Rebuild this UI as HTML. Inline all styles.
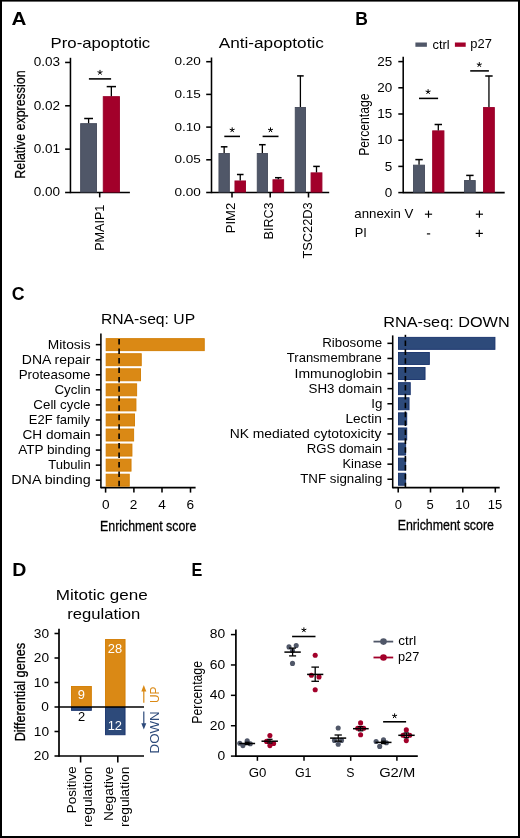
<!DOCTYPE html>
<html><head><meta charset="utf-8"><style>
html,body{margin:0;padding:0;background:#fff;}
svg{display:block;will-change:transform;font-family:'Liberation Sans', sans-serif;}
</style></head><body>
<svg width="520" height="838" viewBox="0 0 520 838">
<rect x="0" y="0" width="520" height="838" fill="#000"/>
<rect x="2" y="1.6" width="516" height="834.4" fill="#fff"/>
<text transform="translate(11.52,24.60)" font-size="18.2" font-weight="bold" textLength="14.89" lengthAdjust="spacingAndGlyphs">A</text>
<text transform="translate(355.19,24.60)" font-size="18.5" font-weight="bold" textLength="12.65" lengthAdjust="spacingAndGlyphs">B</text>
<text transform="translate(11.87,300.40)" font-size="18.5" font-weight="bold" textLength="12.83" lengthAdjust="spacingAndGlyphs">C</text>
<text transform="translate(12.24,576.30)" font-size="18.5" font-weight="bold" textLength="14.12" lengthAdjust="spacingAndGlyphs">D</text>
<text transform="translate(191.50,576.30)" font-size="18.5" font-weight="bold" textLength="10.82" lengthAdjust="spacingAndGlyphs">E</text>
<text transform="translate(50.55,48.30)" font-size="15" textLength="99.70" lengthAdjust="spacingAndGlyphs">Pro-apoptotic</text>
<line x1="70.45" y1="57.80" x2="70.45" y2="193.20" stroke="#000" stroke-width="1.55" />
<line x1="70.45" y1="192.50" x2="129.90" y2="192.50" stroke="#000" stroke-width="1.55" />
<line x1="65.10" y1="62.45" x2="70.45" y2="62.45" stroke="#000" stroke-width="1.55" />
<text transform="translate(33.71,66.35) scale(1.11,1)" font-size="12.2">0.03</text>
<line x1="65.10" y1="105.80" x2="70.45" y2="105.80" stroke="#000" stroke-width="1.55" />
<text transform="translate(33.74,109.70) scale(1.11,1)" font-size="12.2">0.02</text>
<line x1="65.10" y1="149.15" x2="70.45" y2="149.15" stroke="#000" stroke-width="1.55" />
<text transform="translate(33.71,153.05) scale(1.11,1)" font-size="12.2">0.01</text>
<line x1="65.10" y1="192.50" x2="70.45" y2="192.50" stroke="#000" stroke-width="1.55" />
<text transform="translate(33.67,196.40) scale(1.11,1)" font-size="12.2">0.00</text>
<line x1="99.70" y1="192.50" x2="99.70" y2="197.40" stroke="#000" stroke-width="1.55" />
<rect x="80.65" y="123.65" width="15.90" height="68.40" fill="#505768" stroke="#444a5a" stroke-width="0.9"/>
<line x1="88.60" y1="123.20" x2="88.60" y2="118.20" stroke="#000" stroke-width="1.3" />
<line x1="84.20" y1="118.50" x2="93.00" y2="118.50" stroke="#000" stroke-width="1.5" />
<rect x="103.25" y="96.65" width="16.20" height="95.40" fill="#a2002a" stroke="#98002a" stroke-width="0.9"/>
<line x1="111.35" y1="96.20" x2="111.35" y2="86.30" stroke="#000" stroke-width="1.3" />
<line x1="106.70" y1="86.60" x2="116.00" y2="86.60" stroke="#000" stroke-width="1.5" />
<line x1="88.90" y1="78.90" x2="111.10" y2="78.90" stroke="#000" stroke-width="1.55" />
<path d="M100.00,72.50L100.00,69.90M100.00,72.50L102.47,71.70M100.00,72.50L101.53,74.60M100.00,72.50L98.47,74.60M100.00,72.50L97.53,71.70" stroke="#000" stroke-width="1.0"/>
<text transform="translate(24.70,178.68) rotate(-90)" font-size="14.5" stroke="#000" stroke-width="0.25" textLength="108.23" lengthAdjust="spacingAndGlyphs">Relative expression</text>
<text transform="translate(103.50,250.85) rotate(-90)" font-size="13.3" textLength="46.22" lengthAdjust="spacingAndGlyphs">PMAIP1</text>
<text transform="translate(218.65,47.90)" font-size="15.2" textLength="105.23" lengthAdjust="spacingAndGlyphs">Anti-apoptotic</text>
<line x1="211.50" y1="57.50" x2="211.50" y2="193.20" stroke="#000" stroke-width="1.55" />
<line x1="211.50" y1="192.50" x2="329.20" y2="192.50" stroke="#000" stroke-width="1.55" />
<line x1="206.20" y1="61.70" x2="211.50" y2="61.70" stroke="#000" stroke-width="1.55" />
<text transform="translate(174.43,65.30) scale(1.15,1)" font-size="11.8">0.20</text>
<line x1="206.20" y1="94.40" x2="211.50" y2="94.40" stroke="#000" stroke-width="1.55" />
<text transform="translate(174.44,98.00) scale(1.15,1)" font-size="11.8">0.15</text>
<line x1="206.20" y1="127.10" x2="211.50" y2="127.10" stroke="#000" stroke-width="1.55" />
<text transform="translate(174.43,130.70) scale(1.15,1)" font-size="11.8">0.10</text>
<line x1="206.20" y1="159.80" x2="211.50" y2="159.80" stroke="#000" stroke-width="1.55" />
<text transform="translate(174.44,163.40) scale(1.15,1)" font-size="11.8">0.05</text>
<line x1="206.20" y1="192.50" x2="211.50" y2="192.50" stroke="#000" stroke-width="1.55" />
<text transform="translate(174.43,196.10) scale(1.15,1)" font-size="11.8">0.00</text>
<line x1="232.00" y1="192.50" x2="232.00" y2="197.50" stroke="#000" stroke-width="1.55" />
<line x1="270.20" y1="192.50" x2="270.20" y2="197.50" stroke="#000" stroke-width="1.55" />
<line x1="308.50" y1="192.50" x2="308.50" y2="197.50" stroke="#000" stroke-width="1.55" />
<rect x="218.95" y="153.45" width="10.40" height="38.60" fill="#505768" stroke="#444a5a" stroke-width="0.9"/>
<line x1="224.15" y1="153.00" x2="224.15" y2="146.50" stroke="#000" stroke-width="1.3" />
<line x1="220.85" y1="146.80" x2="227.45" y2="146.80" stroke="#000" stroke-width="1.5" />
<rect x="234.95" y="180.95" width="10.60" height="11.10" fill="#a2002a" stroke="#98002a" stroke-width="0.9"/>
<line x1="240.25" y1="180.50" x2="240.25" y2="174.20" stroke="#000" stroke-width="1.3" />
<line x1="236.95" y1="174.50" x2="243.55" y2="174.50" stroke="#000" stroke-width="1.5" />
<rect x="257.25" y="153.45" width="10.20" height="38.60" fill="#505768" stroke="#444a5a" stroke-width="0.9"/>
<line x1="262.35" y1="153.00" x2="262.35" y2="144.40" stroke="#000" stroke-width="1.3" />
<line x1="259.05" y1="144.70" x2="265.65" y2="144.70" stroke="#000" stroke-width="1.5" />
<rect x="272.95" y="179.75" width="10.70" height="12.30" fill="#a2002a" stroke="#98002a" stroke-width="0.9"/>
<line x1="278.30" y1="179.30" x2="278.30" y2="177.40" stroke="#000" stroke-width="1.3" />
<line x1="275.00" y1="177.70" x2="281.60" y2="177.70" stroke="#000" stroke-width="1.5" />
<rect x="295.25" y="107.45" width="10.30" height="84.60" fill="#505768" stroke="#444a5a" stroke-width="0.9"/>
<line x1="300.40" y1="107.00" x2="300.40" y2="75.60" stroke="#000" stroke-width="1.3" />
<line x1="297.10" y1="75.90" x2="303.70" y2="75.90" stroke="#000" stroke-width="1.5" />
<rect x="311.05" y="172.85" width="10.90" height="19.20" fill="#a2002a" stroke="#98002a" stroke-width="0.9"/>
<line x1="316.50" y1="172.40" x2="316.50" y2="166.10" stroke="#000" stroke-width="1.3" />
<line x1="313.20" y1="166.40" x2="319.80" y2="166.40" stroke="#000" stroke-width="1.5" />
<line x1="224.30" y1="136.40" x2="240.00" y2="136.40" stroke="#000" stroke-width="1.55" />
<path d="M232.20,130.00L232.20,127.40M232.20,130.00L234.67,129.20M232.20,130.00L233.73,132.10M232.20,130.00L230.67,132.10M232.20,130.00L229.73,129.20" stroke="#000" stroke-width="1.0"/>
<line x1="262.60" y1="136.40" x2="278.50" y2="136.40" stroke="#000" stroke-width="1.55" />
<path d="M270.50,130.00L270.50,127.40M270.50,130.00L272.97,129.20M270.50,130.00L272.03,132.10M270.50,130.00L268.97,132.10M270.50,130.00L268.03,129.20" stroke="#000" stroke-width="1.0"/>
<text transform="translate(235.40,233.30) rotate(-90)" font-size="12.8" textLength="30.60" lengthAdjust="spacingAndGlyphs">PIM2</text>
<text transform="translate(273.40,239.39) rotate(-90)" font-size="12.8" textLength="36.88" lengthAdjust="spacingAndGlyphs">BIRC3</text>
<text transform="translate(311.60,258.49) rotate(-90)" font-size="12.8" textLength="56.22" lengthAdjust="spacingAndGlyphs">TSC22D3</text>
<line x1="403.20" y1="56.80" x2="403.20" y2="193.30" stroke="#000" stroke-width="1.55" />
<line x1="403.20" y1="192.60" x2="504.70" y2="192.60" stroke="#000" stroke-width="1.55" />
<line x1="398.30" y1="61.60" x2="403.20" y2="61.60" stroke="#000" stroke-width="1.55" />
<text transform="translate(377.31,65.70) scale(1.07,1)" font-size="12.6">25</text>
<line x1="398.30" y1="87.80" x2="403.20" y2="87.80" stroke="#000" stroke-width="1.55" />
<text transform="translate(377.31,91.90) scale(1.07,1)" font-size="12.6">20</text>
<line x1="398.30" y1="114.00" x2="403.20" y2="114.00" stroke="#000" stroke-width="1.55" />
<text transform="translate(377.31,118.10) scale(1.07,1)" font-size="12.6">15</text>
<line x1="398.30" y1="140.20" x2="403.20" y2="140.20" stroke="#000" stroke-width="1.55" />
<text transform="translate(377.31,144.30) scale(1.07,1)" font-size="12.6">10</text>
<line x1="398.30" y1="166.40" x2="403.20" y2="166.40" stroke="#000" stroke-width="1.55" />
<text transform="translate(384.80,170.50) scale(1.07,1)" font-size="12.6">5</text>
<line x1="398.30" y1="192.60" x2="403.20" y2="192.60" stroke="#000" stroke-width="1.55" />
<text transform="translate(384.80,196.70) scale(1.07,1)" font-size="12.6">0</text>
<rect x="413.55" y="165.15" width="11.00" height="27.00" fill="#505768" stroke="#444a5a" stroke-width="0.9"/>
<line x1="419.05" y1="164.70" x2="419.05" y2="159.30" stroke="#000" stroke-width="1.3" />
<line x1="415.35" y1="159.60" x2="422.75" y2="159.60" stroke="#000" stroke-width="1.5" />
<rect x="432.65" y="130.85" width="11.30" height="61.30" fill="#a2002a" stroke="#98002a" stroke-width="0.9"/>
<line x1="438.30" y1="130.40" x2="438.30" y2="124.20" stroke="#000" stroke-width="1.3" />
<line x1="434.60" y1="124.50" x2="442.00" y2="124.50" stroke="#000" stroke-width="1.5" />
<rect x="464.55" y="180.55" width="10.70" height="11.60" fill="#505768" stroke="#444a5a" stroke-width="0.9"/>
<line x1="469.90" y1="180.10" x2="469.90" y2="175.10" stroke="#000" stroke-width="1.3" />
<line x1="466.20" y1="175.40" x2="473.60" y2="175.40" stroke="#000" stroke-width="1.5" />
<rect x="483.55" y="107.55" width="10.80" height="84.60" fill="#a2002a" stroke="#98002a" stroke-width="0.9"/>
<line x1="488.95" y1="107.10" x2="488.95" y2="75.70" stroke="#000" stroke-width="1.3" />
<line x1="485.25" y1="76.00" x2="492.65" y2="76.00" stroke="#000" stroke-width="1.5" />
<line x1="419.00" y1="98.40" x2="438.10" y2="98.40" stroke="#000" stroke-width="1.55" />
<path d="M428.10,91.80L428.10,89.20M428.10,91.80L430.57,91.00M428.10,91.80L429.63,93.90M428.10,91.80L426.57,93.90M428.10,91.80L425.63,91.00" stroke="#000" stroke-width="1.0"/>
<line x1="470.20" y1="70.90" x2="488.90" y2="70.90" stroke="#000" stroke-width="1.55" />
<path d="M479.30,64.70L479.30,62.10M479.30,64.70L481.77,63.90M479.30,64.70L480.83,66.80M479.30,64.70L477.77,66.80M479.30,64.70L476.83,63.90" stroke="#000" stroke-width="1.0"/>
<text transform="translate(368.60,155.80) rotate(-90)" font-size="15" textLength="62.36" lengthAdjust="spacingAndGlyphs">Percentage</text>
<rect x="415.40" y="42.50" width="11.50" height="4.30" fill="#505768"/>
<text transform="translate(432.54,48.50)" font-size="12.3" textLength="17.11" lengthAdjust="spacingAndGlyphs">ctrl</text>
<rect x="454.90" y="42.50" width="10.80" height="4.30" fill="#a2002a"/>
<text transform="translate(470.35,48.00)" font-size="12" textLength="21.56" lengthAdjust="spacingAndGlyphs">p27</text>
<text transform="translate(354.32,217.90)" font-size="12.8" textLength="58.98" lengthAdjust="spacingAndGlyphs">annexin V</text>
<text transform="translate(354.79,237.30)" font-size="12.8" textLength="12.08" lengthAdjust="spacingAndGlyphs">PI</text>
<line x1="424.90" y1="214.20" x2="432.10" y2="214.20" stroke="#000" stroke-width="1.15" />
<line x1="428.50" y1="210.60" x2="428.50" y2="217.80" stroke="#000" stroke-width="1.15" />
<line x1="475.80" y1="214.20" x2="483.00" y2="214.20" stroke="#000" stroke-width="1.15" />
<line x1="479.40" y1="210.60" x2="479.40" y2="217.80" stroke="#000" stroke-width="1.15" />
<line x1="475.70" y1="233.40" x2="482.90" y2="233.40" stroke="#000" stroke-width="1.15" />
<line x1="479.30" y1="229.80" x2="479.30" y2="237.00" stroke="#000" stroke-width="1.15" />
<line x1="426.90" y1="233.90" x2="430.20" y2="233.90" stroke="#000" stroke-width="1.15" />
<text transform="translate(100.97,324.00)" font-size="15" textLength="94.14" lengthAdjust="spacingAndGlyphs">RNA-seq: UP</text>
<line x1="100.90" y1="333.50" x2="100.90" y2="488.30" stroke="#000" stroke-width="1.55" />
<line x1="100.90" y1="487.60" x2="195.60" y2="487.60" stroke="#000" stroke-width="1.55" />
<rect x="106.15" y="338.65" width="98.10" height="12.00" fill="#da8915" stroke="#d27c00" stroke-width="0.9"/>
<line x1="95.80" y1="344.65" x2="100.90" y2="344.65" stroke="#000" stroke-width="1.55" />
<text transform="translate(47.84,348.60)" font-size="13" textLength="42.77" lengthAdjust="spacingAndGlyphs">Mitosis</text>
<rect x="106.15" y="353.71" width="35.10" height="12.00" fill="#da8915" stroke="#d27c00" stroke-width="0.9"/>
<line x1="95.80" y1="359.71" x2="100.90" y2="359.71" stroke="#000" stroke-width="1.55" />
<text transform="translate(21.83,363.66)" font-size="13" textLength="68.50" lengthAdjust="spacingAndGlyphs">DNA repair</text>
<rect x="106.15" y="368.77" width="34.40" height="12.00" fill="#da8915" stroke="#d27c00" stroke-width="0.9"/>
<line x1="95.80" y1="374.77" x2="100.90" y2="374.77" stroke="#000" stroke-width="1.55" />
<text transform="translate(18.65,378.72)" font-size="13" textLength="71.87" lengthAdjust="spacingAndGlyphs">Proteasome</text>
<rect x="106.15" y="383.83" width="30.50" height="12.00" fill="#da8915" stroke="#d27c00" stroke-width="0.9"/>
<line x1="95.80" y1="389.83" x2="100.90" y2="389.83" stroke="#000" stroke-width="1.55" />
<text transform="translate(54.43,393.78)" font-size="13" textLength="36.37" lengthAdjust="spacingAndGlyphs">Cyclin</text>
<rect x="106.15" y="398.89" width="29.80" height="12.00" fill="#da8915" stroke="#d27c00" stroke-width="0.9"/>
<line x1="95.80" y1="404.89" x2="100.90" y2="404.89" stroke="#000" stroke-width="1.55" />
<text transform="translate(33.33,408.84)" font-size="13" textLength="57.11" lengthAdjust="spacingAndGlyphs">Cell cycle</text>
<rect x="106.15" y="413.95" width="28.40" height="12.00" fill="#da8915" stroke="#d27c00" stroke-width="0.9"/>
<line x1="95.80" y1="419.95" x2="100.90" y2="419.95" stroke="#000" stroke-width="1.55" />
<text transform="translate(28.85,423.90)" font-size="13" textLength="61.15" lengthAdjust="spacingAndGlyphs">E2F family</text>
<rect x="106.15" y="429.01" width="27.50" height="12.00" fill="#da8915" stroke="#d27c00" stroke-width="0.9"/>
<line x1="95.80" y1="435.01" x2="100.90" y2="435.01" stroke="#000" stroke-width="1.55" />
<text transform="translate(22.39,438.96)" font-size="13" textLength="68.33" lengthAdjust="spacingAndGlyphs">CH domain</text>
<rect x="106.15" y="444.07" width="25.80" height="12.00" fill="#da8915" stroke="#d27c00" stroke-width="0.9"/>
<line x1="95.80" y1="450.07" x2="100.90" y2="450.07" stroke="#000" stroke-width="1.55" />
<text transform="translate(18.15,454.02)" font-size="13" textLength="72.67" lengthAdjust="spacingAndGlyphs">ATP binding</text>
<rect x="106.15" y="459.13" width="24.90" height="12.00" fill="#da8915" stroke="#d27c00" stroke-width="0.9"/>
<line x1="95.80" y1="465.13" x2="100.90" y2="465.13" stroke="#000" stroke-width="1.55" />
<text transform="translate(48.25,469.08)" font-size="13" textLength="42.45" lengthAdjust="spacingAndGlyphs">Tubulin</text>
<rect x="106.15" y="474.19" width="23.10" height="12.00" fill="#da8915" stroke="#d27c00" stroke-width="0.9"/>
<line x1="95.80" y1="480.19" x2="100.90" y2="480.19" stroke="#000" stroke-width="1.55" />
<text transform="translate(11.28,484.14)" font-size="13" textLength="79.48" lengthAdjust="spacingAndGlyphs">DNA binding</text>
<line x1="119.10" y1="339.10" x2="119.10" y2="487.60" stroke="#000" stroke-width="1.6" stroke-dasharray="5.5,3.95"/>
<line x1="105.60" y1="487.60" x2="105.60" y2="492.60" stroke="#000" stroke-width="1.55" />
<text transform="translate(101.90,508.50) scale(1.05,1)" font-size="13">0</text>
<line x1="133.90" y1="487.60" x2="133.90" y2="492.60" stroke="#000" stroke-width="1.55" />
<text transform="translate(129.86,508.50) scale(1.05,1)" font-size="13">2</text>
<line x1="162.00" y1="487.60" x2="162.00" y2="492.60" stroke="#000" stroke-width="1.55" />
<text transform="translate(158.29,508.50) scale(1.05,1)" font-size="13">4</text>
<line x1="190.50" y1="487.60" x2="190.50" y2="492.60" stroke="#000" stroke-width="1.55" />
<text transform="translate(186.46,508.50) scale(1.05,1)" font-size="13">6</text>
<text transform="translate(100.01,530.75)" font-size="14.7" stroke="#000" stroke-width="0.3" textLength="96.36" lengthAdjust="spacingAndGlyphs">Enrichment score</text>
<text transform="translate(383.21,326.50)" font-size="15" textLength="126.51" lengthAdjust="spacingAndGlyphs">RNA-seq: DOWN</text>
<line x1="392.70" y1="335.40" x2="392.70" y2="488.30" stroke="#000" stroke-width="1.55" />
<line x1="392.70" y1="487.60" x2="499.70" y2="487.60" stroke="#000" stroke-width="1.55" />
<rect x="398.45" y="337.35" width="96.50" height="12.00" fill="#2d4a7a" stroke="#16316b" stroke-width="0.9"/>
<line x1="387.40" y1="343.35" x2="392.70" y2="343.35" stroke="#000" stroke-width="1.55" />
<text transform="translate(322.20,347.30)" font-size="13" textLength="59.94" lengthAdjust="spacingAndGlyphs">Ribosome</text>
<rect x="398.45" y="352.45" width="30.90" height="12.00" fill="#2d4a7a" stroke="#16316b" stroke-width="0.9"/>
<line x1="387.40" y1="358.45" x2="392.70" y2="358.45" stroke="#000" stroke-width="1.55" />
<text transform="translate(286.86,362.40)" font-size="13" textLength="94.94" lengthAdjust="spacingAndGlyphs">Transmembrane</text>
<rect x="398.45" y="367.55" width="26.60" height="12.00" fill="#2d4a7a" stroke="#16316b" stroke-width="0.9"/>
<line x1="387.40" y1="373.55" x2="392.70" y2="373.55" stroke="#000" stroke-width="1.55" />
<text transform="translate(294.51,377.50)" font-size="13" textLength="87.64" lengthAdjust="spacingAndGlyphs">Immunoglobin</text>
<rect x="398.45" y="382.65" width="11.80" height="12.00" fill="#2d4a7a" stroke="#16316b" stroke-width="0.9"/>
<line x1="387.40" y1="388.65" x2="392.70" y2="388.65" stroke="#000" stroke-width="1.55" />
<text transform="translate(308.52,392.60)" font-size="13" textLength="73.60" lengthAdjust="spacingAndGlyphs">SH3 domain</text>
<rect x="398.45" y="397.75" width="10.60" height="12.00" fill="#2d4a7a" stroke="#16316b" stroke-width="0.9"/>
<line x1="387.40" y1="403.75" x2="392.70" y2="403.75" stroke="#000" stroke-width="1.55" />
<text transform="translate(371.18,407.70)" font-size="13" textLength="11.12" lengthAdjust="spacingAndGlyphs">Ig</text>
<rect x="398.45" y="412.85" width="8.30" height="12.00" fill="#2d4a7a" stroke="#16316b" stroke-width="0.9"/>
<line x1="387.40" y1="418.85" x2="392.70" y2="418.85" stroke="#000" stroke-width="1.55" />
<text transform="translate(345.43,422.80)" font-size="13" textLength="36.44" lengthAdjust="spacingAndGlyphs">Lectin</text>
<rect x="398.45" y="427.95" width="8.30" height="12.00" fill="#2d4a7a" stroke="#16316b" stroke-width="0.9"/>
<line x1="387.40" y1="433.95" x2="392.70" y2="433.95" stroke="#000" stroke-width="1.55" />
<text transform="translate(229.63,437.90)" font-size="13" textLength="151.78" lengthAdjust="spacingAndGlyphs">NK mediated cytotoxicity</text>
<rect x="398.45" y="443.05" width="7.20" height="12.00" fill="#2d4a7a" stroke="#16316b" stroke-width="0.9"/>
<line x1="387.40" y1="449.05" x2="392.70" y2="449.05" stroke="#000" stroke-width="1.55" />
<text transform="translate(306.66,453.00)" font-size="13" textLength="75.53" lengthAdjust="spacingAndGlyphs">RGS domain</text>
<rect x="398.45" y="458.15" width="7.20" height="12.00" fill="#2d4a7a" stroke="#16316b" stroke-width="0.9"/>
<line x1="387.40" y1="464.15" x2="392.70" y2="464.15" stroke="#000" stroke-width="1.55" />
<text transform="translate(342.49,468.10)" font-size="13" textLength="39.49" lengthAdjust="spacingAndGlyphs">Kinase</text>
<rect x="398.45" y="473.25" width="7.20" height="12.00" fill="#2d4a7a" stroke="#16316b" stroke-width="0.9"/>
<line x1="387.40" y1="479.25" x2="392.70" y2="479.25" stroke="#000" stroke-width="1.55" />
<text transform="translate(300.23,483.20)" font-size="13" textLength="82.08" lengthAdjust="spacingAndGlyphs">TNF signaling</text>
<line x1="405.40" y1="334.80" x2="405.40" y2="337.00" stroke="#000" stroke-width="1.6" />
<line x1="405.40" y1="340.40" x2="405.40" y2="487.60" stroke="#000" stroke-width="1.6" stroke-dasharray="5.6,3.3"/>
<line x1="398.20" y1="487.60" x2="398.20" y2="492.50" stroke="#000" stroke-width="1.55" />
<text transform="translate(394.67,508.50) scale(1.0,1)" font-size="13">0</text>
<line x1="430.50" y1="487.60" x2="430.50" y2="492.50" stroke="#000" stroke-width="1.55" />
<text transform="translate(426.60,508.50) scale(1.0,1)" font-size="13">5</text>
<line x1="462.80" y1="487.60" x2="462.80" y2="492.50" stroke="#000" stroke-width="1.55" />
<text transform="translate(455.28,508.50) scale(1.0,1)" font-size="13">10</text>
<line x1="495.30" y1="487.60" x2="495.30" y2="492.50" stroke="#000" stroke-width="1.55" />
<text transform="translate(487.81,508.50) scale(1.0,1)" font-size="13">15</text>
<text transform="translate(397.69,530.30)" font-size="14.7" stroke="#000" stroke-width="0.3" textLength="96.22" lengthAdjust="spacingAndGlyphs">Enrichment score</text>
<text transform="translate(55.80,600.00)" font-size="15" textLength="92.00" lengthAdjust="spacingAndGlyphs">Mitotic gene</text>
<text transform="translate(67.26,619.00)" font-size="15" textLength="73.05" lengthAdjust="spacingAndGlyphs">regulation</text>
<line x1="59.00" y1="628.80" x2="59.00" y2="756.80" stroke="#000" stroke-width="1.7" />
<line x1="54.50" y1="633.50" x2="59.00" y2="633.50" stroke="#000" stroke-width="1.55" />
<text transform="translate(33.76,637.60) scale(1.08,1)" font-size="12.7">30</text>
<line x1="54.50" y1="658.00" x2="59.00" y2="658.00" stroke="#000" stroke-width="1.55" />
<text transform="translate(33.76,662.10) scale(1.08,1)" font-size="12.7">20</text>
<line x1="54.50" y1="682.50" x2="59.00" y2="682.50" stroke="#000" stroke-width="1.55" />
<text transform="translate(33.76,686.60) scale(1.08,1)" font-size="12.7">10</text>
<line x1="54.50" y1="707.00" x2="59.00" y2="707.00" stroke="#000" stroke-width="1.55" />
<text transform="translate(41.32,711.10) scale(1.08,1)" font-size="12.7">0</text>
<line x1="54.50" y1="731.50" x2="59.00" y2="731.50" stroke="#000" stroke-width="1.55" />
<text transform="translate(33.76,735.60) scale(1.08,1)" font-size="12.7">10</text>
<line x1="54.50" y1="756.00" x2="59.00" y2="756.00" stroke="#000" stroke-width="1.55" />
<text transform="translate(33.76,760.10) scale(1.08,1)" font-size="12.7">20</text>
<line x1="59.00" y1="756.00" x2="144.00" y2="756.00" stroke="#000" stroke-width="1.7" />
<rect x="71.45" y="686.45" width="19.90" height="20.10" fill="#da8915" stroke="#d27c00" stroke-width="0.9"/>
<rect x="71.45" y="707.45" width="19.90" height="2.90" fill="#2d4a7a" stroke="#16316b" stroke-width="0.9"/>
<rect x="105.55" y="639.55" width="19.50" height="67.00" fill="#da8915" stroke="#d27c00" stroke-width="0.9"/>
<rect x="105.55" y="707.45" width="19.50" height="27.30" fill="#2d4a7a" stroke="#16316b" stroke-width="0.9"/>
<line x1="59.00" y1="707.00" x2="144.00" y2="707.00" stroke="#000" stroke-width="1.6" />
<line x1="80.60" y1="755.90" x2="80.60" y2="762.50" stroke="#000" stroke-width="1.55" />
<line x1="117.80" y1="755.90" x2="117.80" y2="762.50" stroke="#000" stroke-width="1.55" />
<text transform="translate(77.83,698.60) scale(1.05,1)" font-size="12.3" fill="#fff">9</text>
<text transform="translate(107.74,652.70) scale(1.05,1)" font-size="12.3" fill="#fff">28</text>
<text transform="translate(78.03,721.30) scale(1.05,1)" font-size="12.3">2</text>
<text transform="translate(107.65,729.70) scale(1.05,1)" font-size="12.3" fill="#fff">12</text>
<line x1="143.80" y1="702.80" x2="143.80" y2="689.50" stroke="#da8915" stroke-width="1.2" />
<path d="M141.3,691.5 L143.8,685.0 L146.3,691.5 Z" fill="#da8915"/>
<line x1="143.80" y1="711.40" x2="143.80" y2="725.00" stroke="#2d4a7a" stroke-width="1.2" />
<path d="M141.3,723.2 L143.8,729.5 L146.3,723.2 Z" fill="#2d4a7a"/>
<text transform="translate(158.80,703.10) rotate(-90)" font-size="12.5" fill="#da8915" textLength="16.44" lengthAdjust="spacingAndGlyphs">UP</text>
<text transform="translate(158.80,753.40) rotate(-90)" font-size="12.5" fill="#2d4a7a" textLength="42.09" lengthAdjust="spacingAndGlyphs">DOWN</text>
<text transform="translate(25.30,741.36) rotate(-90)" font-size="14.7" stroke="#000" stroke-width="0.3" textLength="98.51" lengthAdjust="spacingAndGlyphs">Differential genes</text>
<text transform="translate(76.10,813.22) rotate(-90)" font-size="13.4" textLength="46.90" lengthAdjust="spacingAndGlyphs">Positive</text>
<text transform="translate(92.20,827.05) rotate(-90)" font-size="13.4" textLength="60.58" lengthAdjust="spacingAndGlyphs">regulation</text>
<text transform="translate(113.20,821.05) rotate(-90)" font-size="13.4" textLength="54.47" lengthAdjust="spacingAndGlyphs">Negative</text>
<text transform="translate(129.30,827.05) rotate(-90)" font-size="13.4" textLength="60.58" lengthAdjust="spacingAndGlyphs">regulation</text>
<line x1="235.90" y1="629.50" x2="235.90" y2="756.90" stroke="#000" stroke-width="1.7" />
<line x1="235.10" y1="756.10" x2="417.80" y2="756.10" stroke="#000" stroke-width="1.7" />
<line x1="230.90" y1="634.58" x2="235.90" y2="634.58" stroke="#000" stroke-width="1.5" />
<text transform="translate(209.69,638.48) scale(1.1,1)" font-size="12.6">80</text>
<line x1="230.90" y1="664.96" x2="235.90" y2="664.96" stroke="#000" stroke-width="1.5" />
<text transform="translate(209.69,668.86) scale(1.1,1)" font-size="12.6">60</text>
<line x1="230.90" y1="695.34" x2="235.90" y2="695.34" stroke="#000" stroke-width="1.5" />
<text transform="translate(209.69,699.24) scale(1.1,1)" font-size="12.6">40</text>
<line x1="230.90" y1="725.72" x2="235.90" y2="725.72" stroke="#000" stroke-width="1.5" />
<text transform="translate(209.69,729.62) scale(1.1,1)" font-size="12.6">20</text>
<line x1="230.90" y1="756.10" x2="235.90" y2="756.10" stroke="#000" stroke-width="1.5" />
<text transform="translate(217.39,760.00) scale(1.1,1)" font-size="12.6">0</text>
<line x1="257.40" y1="756.10" x2="257.40" y2="760.80" stroke="#000" stroke-width="1.5" />
<line x1="304.00" y1="756.10" x2="304.00" y2="760.80" stroke="#000" stroke-width="1.5" />
<line x1="350.70" y1="756.10" x2="350.70" y2="760.80" stroke="#000" stroke-width="1.5" />
<line x1="396.90" y1="756.10" x2="396.90" y2="760.80" stroke="#000" stroke-width="1.5" />
<text transform="translate(248.70,777.10)" font-size="12.8" textLength="17.66" lengthAdjust="spacingAndGlyphs">G0</text>
<text transform="translate(294.92,777.10)" font-size="12.8" textLength="16.56" lengthAdjust="spacingAndGlyphs">G1</text>
<text transform="translate(346.32,777.10)" font-size="12.8" textLength="8.22" lengthAdjust="spacingAndGlyphs">S</text>
<text transform="translate(379.13,777.10)" font-size="12.8" textLength="36.05" lengthAdjust="spacingAndGlyphs">G2/M</text>
<text transform="translate(201.80,723.65) rotate(-90)" font-size="15" textLength="62.63" lengthAdjust="spacingAndGlyphs">Percentage</text>
<circle cx="239.80" cy="743.20" r="2.55" fill="#505768"/>
<circle cx="242.90" cy="745.60" r="2.55" fill="#505768"/>
<circle cx="247.20" cy="740.90" r="2.55" fill="#505768"/>
<circle cx="250.30" cy="743.80" r="2.55" fill="#505768"/>
<circle cx="269.90" cy="735.60" r="2.55" fill="#a2002a"/>
<circle cx="266.60" cy="741.40" r="2.55" fill="#a2002a"/>
<circle cx="273.60" cy="743.50" r="2.55" fill="#a2002a"/>
<circle cx="269.90" cy="745.60" r="2.55" fill="#a2002a"/>
<circle cx="289.00" cy="646.90" r="2.55" fill="#505768"/>
<circle cx="296.20" cy="645.50" r="2.55" fill="#505768"/>
<circle cx="292.50" cy="650.50" r="2.55" fill="#505768"/>
<circle cx="292.50" cy="663.40" r="2.55" fill="#505768"/>
<circle cx="315.20" cy="655.20" r="2.55" fill="#a2002a"/>
<circle cx="311.40" cy="675.20" r="2.55" fill="#a2002a"/>
<circle cx="319.00" cy="676.90" r="2.55" fill="#a2002a"/>
<circle cx="315.20" cy="689.80" r="2.55" fill="#a2002a"/>
<circle cx="338.20" cy="728.00" r="2.55" fill="#505768"/>
<circle cx="334.50" cy="740.40" r="2.55" fill="#505768"/>
<circle cx="341.50" cy="740.40" r="2.55" fill="#505768"/>
<circle cx="338.20" cy="744.20" r="2.55" fill="#505768"/>
<circle cx="360.60" cy="722.90" r="2.55" fill="#a2002a"/>
<circle cx="357.70" cy="728.30" r="2.55" fill="#a2002a"/>
<circle cx="363.70" cy="728.30" r="2.55" fill="#a2002a"/>
<circle cx="360.60" cy="734.70" r="2.55" fill="#a2002a"/>
<circle cx="376.10" cy="741.50" r="2.55" fill="#505768"/>
<circle cx="379.70" cy="746.40" r="2.55" fill="#505768"/>
<circle cx="383.50" cy="739.70" r="2.55" fill="#505768"/>
<circle cx="386.40" cy="742.80" r="2.55" fill="#505768"/>
<circle cx="406.30" cy="729.90" r="2.55" fill="#a2002a"/>
<circle cx="403.00" cy="735.30" r="2.55" fill="#a2002a"/>
<circle cx="409.70" cy="735.30" r="2.55" fill="#a2002a"/>
<circle cx="406.30" cy="740.60" r="2.55" fill="#a2002a"/>
<line x1="239.20" y1="743.50" x2="255.10" y2="743.50" stroke="#000" stroke-width="1.5" />
<line x1="247.20" y1="742.30" x2="247.20" y2="744.60" stroke="#000" stroke-width="1.3" />
<line x1="244.70" y1="742.30" x2="249.70" y2="742.30" stroke="#000" stroke-width="1.3" />
<line x1="244.70" y1="744.60" x2="249.70" y2="744.60" stroke="#000" stroke-width="1.3" />
<line x1="261.50" y1="741.20" x2="277.90" y2="741.20" stroke="#000" stroke-width="1.5" />
<line x1="269.90" y1="739.30" x2="269.90" y2="743.00" stroke="#000" stroke-width="1.3" />
<line x1="267.25" y1="739.30" x2="272.55" y2="739.30" stroke="#000" stroke-width="1.3" />
<line x1="267.25" y1="743.00" x2="272.55" y2="743.00" stroke="#000" stroke-width="1.3" />
<line x1="284.40" y1="652.10" x2="300.80" y2="652.10" stroke="#000" stroke-width="1.5" />
<line x1="292.60" y1="648.10" x2="292.60" y2="655.90" stroke="#000" stroke-width="1.3" />
<line x1="289.10" y1="648.10" x2="296.10" y2="648.10" stroke="#000" stroke-width="1.3" />
<line x1="289.10" y1="655.90" x2="296.10" y2="655.90" stroke="#000" stroke-width="1.3" />
<line x1="307.10" y1="674.40" x2="323.30" y2="674.40" stroke="#000" stroke-width="1.5" />
<line x1="315.20" y1="667.10" x2="315.20" y2="681.30" stroke="#000" stroke-width="1.3" />
<line x1="311.40" y1="667.10" x2="319.00" y2="667.10" stroke="#000" stroke-width="1.3" />
<line x1="311.40" y1="681.30" x2="319.00" y2="681.30" stroke="#000" stroke-width="1.3" />
<line x1="330.10" y1="738.10" x2="346.20" y2="738.10" stroke="#000" stroke-width="1.5" />
<line x1="338.20" y1="735.00" x2="338.20" y2="741.20" stroke="#000" stroke-width="1.3" />
<line x1="334.55" y1="735.00" x2="341.85" y2="735.00" stroke="#000" stroke-width="1.3" />
<line x1="334.55" y1="741.20" x2="341.85" y2="741.20" stroke="#000" stroke-width="1.3" />
<line x1="353.00" y1="728.70" x2="368.70" y2="728.70" stroke="#000" stroke-width="1.5" />
<line x1="360.60" y1="726.60" x2="360.60" y2="730.80" stroke="#000" stroke-width="1.3" />
<line x1="357.85" y1="726.60" x2="363.35" y2="726.60" stroke="#000" stroke-width="1.3" />
<line x1="357.85" y1="730.80" x2="363.35" y2="730.80" stroke="#000" stroke-width="1.3" />
<line x1="375.40" y1="742.40" x2="391.50" y2="742.40" stroke="#000" stroke-width="1.5" />
<line x1="383.40" y1="741.20" x2="383.40" y2="743.60" stroke="#000" stroke-width="1.3" />
<line x1="380.90" y1="741.20" x2="385.90" y2="741.20" stroke="#000" stroke-width="1.3" />
<line x1="380.90" y1="743.60" x2="385.90" y2="743.60" stroke="#000" stroke-width="1.3" />
<line x1="398.30" y1="735.30" x2="414.70" y2="735.30" stroke="#000" stroke-width="1.5" />
<line x1="406.30" y1="733.00" x2="406.30" y2="737.70" stroke="#000" stroke-width="1.3" />
<line x1="403.60" y1="733.00" x2="409.00" y2="733.00" stroke="#000" stroke-width="1.3" />
<line x1="403.60" y1="737.70" x2="409.00" y2="737.70" stroke="#000" stroke-width="1.3" />
<line x1="292.10" y1="636.50" x2="315.50" y2="636.50" stroke="#000" stroke-width="1.55" />
<path d="M303.90,630.00L303.90,627.40M303.90,630.00L306.37,629.20M303.90,630.00L305.43,632.10M303.90,630.00L302.37,632.10M303.90,630.00L301.43,629.20" stroke="#000" stroke-width="1.0"/>
<line x1="383.10" y1="721.80" x2="406.10" y2="721.80" stroke="#000" stroke-width="1.55" />
<path d="M394.60,716.00L394.60,713.40M394.60,716.00L397.07,715.20M394.60,716.00L396.13,718.10M394.60,716.00L393.07,718.10M394.60,716.00L392.13,715.20" stroke="#000" stroke-width="1.0"/>
<line x1="373.50" y1="641.60" x2="393.20" y2="641.60" stroke="#505768" stroke-width="1.8" />
<circle cx="383.50" cy="641.60" r="3.3" fill="#505768"/>
<text transform="translate(398.22,645.20)" font-size="12.6" textLength="17.94" lengthAdjust="spacingAndGlyphs">ctrl</text>
<line x1="373.50" y1="657.50" x2="393.20" y2="657.50" stroke="#a2002a" stroke-width="1.8" />
<circle cx="383.50" cy="657.50" r="3.3" fill="#a2002a"/>
<text transform="translate(397.97,661.00)" font-size="12.3" textLength="21.31" lengthAdjust="spacingAndGlyphs">p27</text>
</svg>
</body></html>
